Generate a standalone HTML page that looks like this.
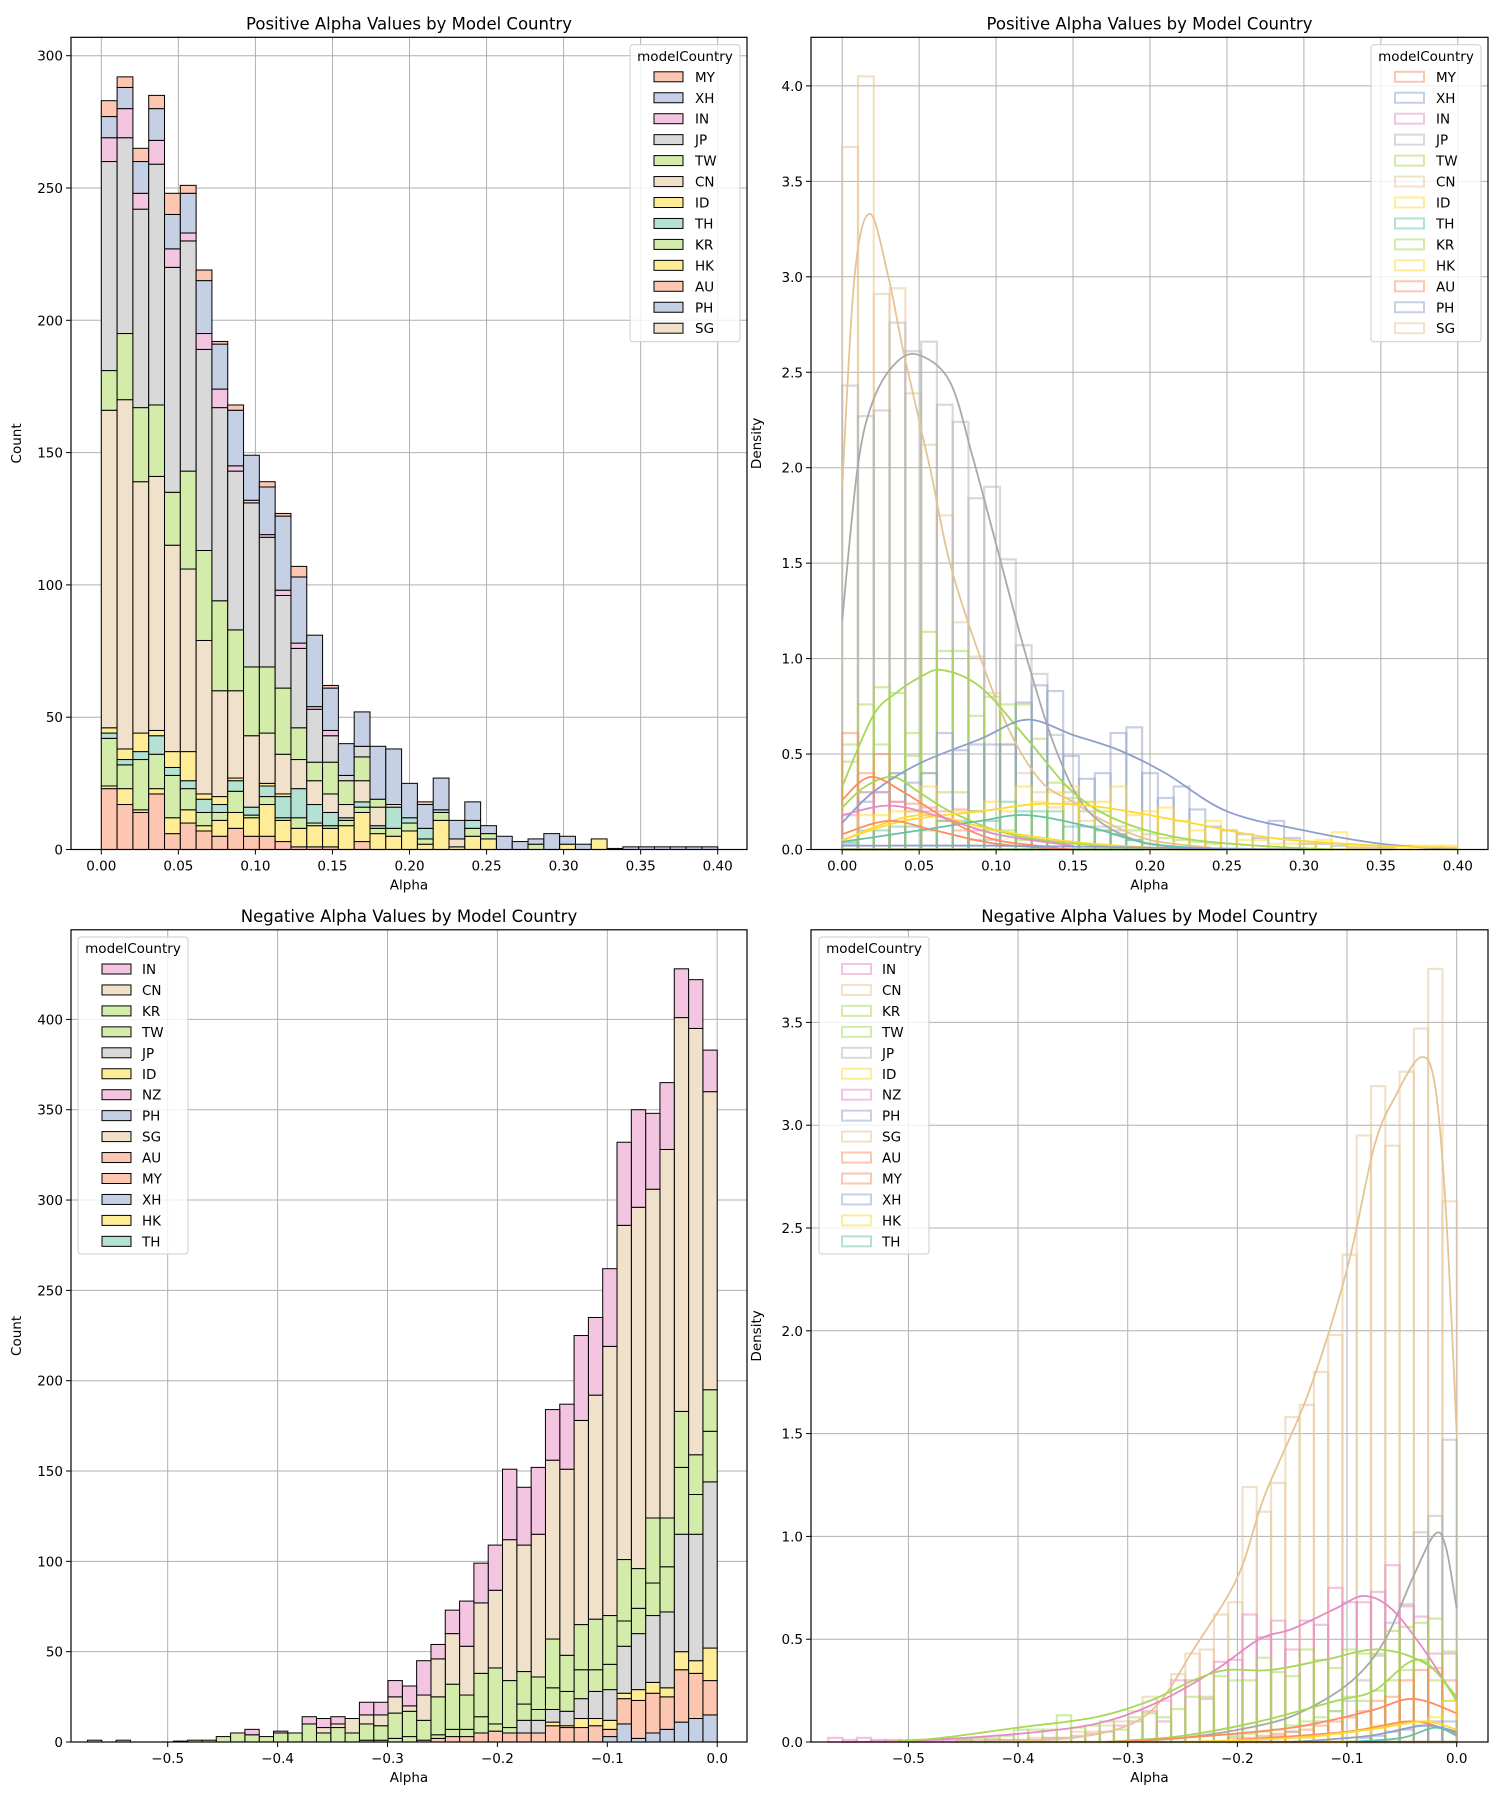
<!DOCTYPE html>
<html><head><meta charset="utf-8"><style>
html,body{margin:0;padding:0;background:#fff;}
svg text{font-family:"DejaVu Sans","Liberation Sans",sans-serif;fill:#000;}
</style></head><body>
<svg id="s" width="1500" height="1800" xmlns="http://www.w3.org/2000/svg"></svg>
<script>
var out=[];
function P(s){out.push(s);}
function sx(o,v){return o.xa+(v-o.xv0)*o.xk;}
function sy(o,v){return o.B-v*o.yk;}
function grid(o,xt,yt){
 P('<rect x="'+o.L+'" y="'+o.T+'" width="'+(o.R-o.L)+'" height="'+(o.B-o.T)+'" fill="#fff"/>');
 xt.forEach(function(v){var x=sx(o,v);P('<line x1="'+x+'" y1="'+o.T+'" x2="'+x+'" y2="'+o.B+'" stroke="#b0b0b0" stroke-width="1"/>');});
 yt.forEach(function(v){var y=sy(o,v);P('<line x1="'+o.L+'" y1="'+y+'" x2="'+o.R+'" y2="'+y+'" stroke="#b0b0b0" stroke-width="1"/>');});
}
function frame(o,xt,yt,xf,yf,title,ylab){
 P('<rect x="'+o.L+'" y="'+o.T+'" width="'+(o.R-o.L)+'" height="'+(o.B-o.T)+'" fill="none" stroke="#000" stroke-width="1.2"/>');
 xt.forEach(function(v){var x=sx(o,v);P('<line x1="'+x+'" y1="'+o.B+'" x2="'+x+'" y2="'+(o.B+5)+'" stroke="#000"/>');
  P('<text x="'+x+'" y="'+(o.B+21)+'" font-size="13.5" text-anchor="middle">'+xf(v)+'</text>');});
 yt.forEach(function(v){var y=sy(o,v);P('<line x1="'+(o.L-5)+'" y1="'+y+'" x2="'+o.L+'" y2="'+y+'" stroke="#000"/>');
  P('<text x="'+(o.L-8)+'" y="'+(y+5)+'" font-size="13.5" text-anchor="end">'+yf(v)+'</text>');});
 P('<text x="'+((o.L+o.R)/2)+'" y="'+(o.T-8)+'" font-size="16.5" text-anchor="middle">'+title+'</text>');
 P('<text x="'+((o.L+o.R)/2)+'" y="'+(o.B+40)+'" font-size="13.5" text-anchor="middle">Alpha</text>');
 var yl=o.L-50;P('<text x="'+yl+'" y="'+((o.T+o.B)/2)+'" font-size="13.5" text-anchor="middle" transform="rotate(-90 '+yl+' '+((o.T+o.B)/2)+')">'+ylab+'</text>');
}
function legend(x,y,w,h,names,cols,filled,px,lx){
 P('<rect x="'+x+'" y="'+y+'" width="'+w+'" height="'+h+'" rx="3" fill="#fff" fill-opacity="0.8" stroke="#ccc"/>');
 P('<text x="'+(x+w/2)+'" y="'+(y+16)+'" font-size="13.5" text-anchor="middle">modelCountry</text>');
 names.forEach(function(n,i){var cy=y+32+i*20.95;
  if(filled)P('<rect x="'+px+'" y="'+(cy-5)+'" width="29" height="10" fill="'+cols[i]+'" stroke="#000" stroke-width="1"/>');
  else P('<rect x="'+px+'" y="'+(cy-5)+'" width="29" height="10" fill="none" stroke="'+cols[i]+'" stroke-opacity="0.5" stroke-width="2"/>');
  P('<text x="'+lx+'" y="'+(cy+5)+'" font-size="13.5">'+n+'</text>');});
}
function f2(v){return v.toFixed(2);} function f1(v){return v.toFixed(1).replace('-','\u2212');} function fi(v){return ''+v;}
function curve(o,pts,col){
 var p=pts.map(function(a){return [sx(o,a[0]),sy(o,a[1])];});
 var d='M'+p[0][0]+','+p[0][1];
 for(var i=0;i<p.length-1;i++){var p0=p[i-1]||p[i],p1=p[i],p2=p[i+1],p3=p[i+2]||p2;
  d+=' C'+(p1[0]+(p2[0]-p0[0])/6)+','+(p1[1]+(p2[1]-p0[1])/6)+' '+(p2[0]-(p3[0]-p1[0])/6)+','+(p2[1]-(p3[1]-p1[1])/6)+' '+p2[0]+','+p2[1];}
 P('<path d="'+d+'" fill="none" stroke="'+col+'" stroke-width="1.8"/>');
}
function outl(o,x0,w,vals,col){
 vals.forEach(function(v,i){if(v<=0)return;var a=sx(o,x0+i*w),b=sx(o,x0+(i+1)*w);
  P('<rect x="'+a+'" y="'+sy(o,v)+'" width="'+(b-a)+'" height="'+(v*o.yk)+'" fill="none" stroke="'+col+'" stroke-opacity="0.5" stroke-width="2.2"/>');});
}
var C={CN:'#e5c494',JP:'#b3b3b3',GR:'#a6d854',BL:'#8da0cb',IN:'#e78ac3',YE:'#ffd92f',TH:'#66c2a5',OR:'#fc8d62'};
var F={AU:'#fdc6b0',HK:'#ffec97',KR:'#d3ecaa',TH:'#b3e1d2',ID:'#ffec97',CN:'#f2e1ca',TW:'#d3ecaa',JP:'#d9d9d9',IN:'#f3c5e1',XH:'#c6d0e5',MY:'#fdc6b0'};

// ---------- Top-left ----------
var A={L:71,R:747,T:37.3,B:849.5,xa:101.3,xv0:0,xk:1541,yk:2.646};
grid(A,[0,.05,.1,.15,.2,.25,.3,.35,.4],[0,50,100,150,200,250,300]);
var lay1=['AU','HK','KR','TH','ID','CN','TW','JP','IN','XH','MY'];
var d1=[[23,24,42,44,46,166,181,260,269,277,283],[17,23,32,34,38,170,195,269,280,288,292],[14,15,34,37,44,139,167,242,248,260,265],[21,23,36,43,45,141,168,259,268,280,285],
[6,12,28,31,37,115,135,220,227,240,248],[10,15,23,26,37,106,143,230,233,248,251],[7,9,14,19,21,79,113,189,195,215,219],[5,11,14,17,20,60,94,167,174,191,192],
[8,14,22,26,27,60,83,143,145,166,168],[5,12,13,16,16,43,69,131,132,149,149],[5,17,20,24,25,44,69,118,119,137,139],[3,11,12,20,21,36,61,96,98,126,127],
[1,8,12,23,23,34,46,76,78,103,107],[1,9,10,17,17,26,33,53,54,81,81],[1,8,9,14,14,21,33,43,45,61,62],[0,9,11,12,12,17,26,28,28,40,40],
[3,14,16,18,18,26,35,39,39,52,52],[0,6,8,9,9,16,19,19,19,39,39],[0,5,8,16,16,17,17,17,17,38,38],[0,7,10,12,12,12,12,12,12,25,25],
[0,2,4,8,8,8,8,8,8,17,18],[0,11,14,15,15,15,15,15,15,27,27],[0,1,1,1,1,4,4,4,4,11,11],[0,5,8,11,11,11,11,11,11,18,18],[0,4,6,6,6,6,6,6,6,9,9],
[0,0,0,0,0,0,0,0,0,5,5],[0,0,0,0,0,0,0,0,0,3,3],[0,0,2,2,2,2,2,2,2,4,4],[0,0,0,0,0,0,0,0,0,6,6],[0,2,2,2,2,2,2,2,2,5,5],[0,0,0,0,0,0,0,0,0,2,2],[0,4,4,4,4,4,4,4,4,4,4],
[0,0,0,0,0,0,0,0,0,0.4,0.4],[0,0,0,0,0,0,0,0,0,1,1],[0,0,0,0,0,0,0,0,0,1,1],[0,0,0,0,0,0,0,0,0,1,1],[0,0,0,0,0,0,0,0,0,1,1],[0,0,0,0,0,0,0,0,0,1,1],[0,0,0,0,0,0,0,0,0,1,1]];
var w1=0.4/39;
d1.forEach(function(b,i){var a=sx(A,i*w1),c=sx(A,(i+1)*w1),prev=0;
 b.forEach(function(t,j){if(t>prev||j==b.length-1){var h=(t-prev)*A.yk;P('<rect x="'+a+'" y="'+sy(A,t)+'" width="'+(c-a)+'" height="'+Math.max(h,0)+'" fill="'+F[lay1[j]]+'" stroke="#000" stroke-width="1"/>');}prev=Math.max(prev,t);});});
frame(A,[0,.05,.1,.15,.2,.25,.3,.35,.4],[0,50,100,150,200,250,300],f2,fi,'Positive Alpha Values by Model Country','Count');
var n1=['MY','XH','IN','JP','TW','CN','ID','TH','KR','HK','AU','PH','SG'];
var fc1=['#fdc6b0','#c6d0e5','#f3c5e1','#d9d9d9','#d3ecaa','#f2e1ca','#ffec97','#b3e1d2','#d3ecaa','#ffec97','#fdc6b0','#c6d0e5','#f2e1ca'];
legend(630,44.8,110,297,n1,fc1,true,654,695);

// ---------- Top-right ----------
var B={L:811,R:1488,T:37.3,B:849.5,xa:842.2,xv0:0,xk:1539,yk:190.9};
grid(B,[0,.05,.1,.15,.2,.25,.3,.35,.4],[0,.5,1,1.5,2,2.5,3,3.5,4]);
outl(B,0,w1,[3.68,4.05,2.91,2.94,2.39,2.12,1.75,1.19,1.01,0.82,0.55,0.4,0.3,0.22,0.25,0.15,0.1,0.08,0.05,0.03],C.CN);
outl(B,0,w1,[2.43,2.27,2.30,2.76,2.61,2.66,2.33,2.24,1.84,1.90,1.52,1.07,0.92,0.6,0.3,0.2,0.12,0.1,0.05],C.JP);
outl(B,0,w1,[0.55,0.76,0.85,0.82,0.61,1.14,1.04,1.04,0.70,0.80,0.76,0.76,0.58,0.35,0.27,0.25,0.2,0.12,0.1,0.08,0.06,0.05,0.04,0.03],C.GR);
outl(B,0,w1,[0.46,0.3,0.55,0.4,0.49,0.4,0.3,0.3,0.2,0.1,0.1,0.05],C.GR);
outl(B,0,w1,[0.03,0.25,0.3,0.4,0.35,0.4,0.61,0.52,0.55,0.55,0.55,0.77,0.86,0.83,0.49,0.37,0.40,0.61,0.64,0.40,0.27,0.33,0.21,0.12,0.1,0.08,0.06,0.15,0.06,0.03,0.03,0.02,0.01,0.01,0.01],C.BL);
outl(B,0,w1,[0.61,0.4,0.5,0.25,0.24,0.2,0.15,0.1,0.05],C.OR);
outl(B,0,w1,[0.18,0.3,0.3,0.25,0.2,0.22,0.2,0.21,0.1,0.05],C.IN);
outl(B,0,w1,[0.05,0.18,0.18,0.2,0.2,0.33,0.15,0.2,0.2,0.25,0.2,0.33,0.25,0.3,0.33,0.25,0.25,0.33,0.18,0.2,0.22,0.15,0.1,0.15,0.1,0.05,0.05,0.03,0.03,0.03,0.05,0.09,0.02,0.02,0.02,0.02,0.02,0.02,0.02],C.YE);
outl(B,0,w1,[0.04,0.1,0.1,0.12,0.12,0.1,0.15,0.15,0.2,0.15,0.25,0.2,0.2,0.2,0.12,0.12,0.1,0.08,0.05],C.TH);
curve(B,[[0,1.9],[0.008,3.0],[0.018,3.33],[0.03,3.0],[0.04,2.6],[0.057,2.0],[0.07,1.5],[0.09,1.0],[0.11,0.6],[0.13,0.35],[0.15,0.25],[0.17,0.15],[0.2,0.05],[0.24,0.01]],C.CN);
curve(B,[[0,1.2],[0.01,2.0],[0.02,2.35],[0.035,2.55],[0.05,2.59],[0.07,2.45],[0.085,2.05],[0.1,1.6],[0.12,1.0],[0.14,0.5],[0.16,0.2],[0.19,0.05],[0.22,0.01]],'#a9a9a9');
curve(B,[[0,0.33],[0.02,0.7],[0.035,0.82],[0.05,0.9],[0.065,0.94],[0.09,0.85],[0.12,0.58],[0.15,0.3],[0.18,0.15],[0.22,0.06],[0.27,0.02],[0.32,0.0]],C.GR);
curve(B,[[0,0.22],[0.015,0.33],[0.033,0.38],[0.05,0.3],[0.07,0.2],[0.1,0.1],[0.13,0.05],[0.18,0.01]],C.GR);
curve(B,[[0,0.14],[0.02,0.3],[0.05,0.45],[0.09,0.58],[0.12,0.68],[0.15,0.6],[0.18,0.52],[0.21,0.4],[0.25,0.2],[0.3,0.1],[0.35,0.03],[0.4,0.0]],C.BL);
curve(B,[[0,0.05],[0.04,0.15],[0.09,0.2],[0.13,0.24],[0.17,0.22],[0.22,0.15],[0.28,0.06],[0.35,0.02],[0.4,0.01]],C.YE);
curve(B,[[0,0.05],[0.05,0.18],[0.1,0.1],[0.15,0.04],[0.2,0.01]],C.YE);
curve(B,[[0,0.04],[0.05,0.1],[0.09,0.15],[0.12,0.18],[0.16,0.12],[0.2,0.03],[0.25,0.0]],C.TH);
curve(B,[[0,0.26],[0.018,0.38],[0.04,0.3],[0.07,0.15],[0.1,0.05],[0.14,0.01]],C.OR);
curve(B,[[0,0.08],[0.03,0.15],[0.06,0.1],[0.1,0.03],[0.15,0.0]],C.OR);
curve(B,[[0,0.18],[0.03,0.23],[0.06,0.18],[0.1,0.08],[0.15,0.02]],C.IN);
curve(B,[[0,0.02],[0.1,0.02],[0.2,0.01],[0.3,0.0]],C.BL);
frame(B,[0,.05,.1,.15,.2,.25,.3,.35,.4],[0,.5,1,1.5,2,2.5,3,3.5,4],f2,f1,'Positive Alpha Values by Model Country','Density');
var oc1=[C.OR,C.BL,C.IN,C.JP,C.GR,C.CN,C.YE,C.TH,C.GR,C.YE,C.OR,C.BL,C.CN];
legend(1371,44.8,110,297,n1,oc1,false,1395,1436);

// ---------- Bottom-left ----------
var D={L:71,R:747,T:929.8,B:1742,xa:717.2,xv0:0,xk:1099,yk:1.8065};
var xt2=[-0.5,-0.4,-0.3,-0.2,-0.1,0];
grid(D,xt2,[0,50,100,150,200,250,300,350,400]);
var lay2=['XH','AU','ID','JP','TW','KR','CN','IN'];
var d2=[[15,34,52,144,172,195,360,383],[13,38,45,115,137,159,395,422],[11,40,50,115,152,183,401,428],[7,25,30,72,97,124,328,365],[5,27,33,70,88,124,306,348],
[2,23,29,60,74,96,296,350],[10,24,27,53,67,101,286,332],[3,7,12,29,43,70,219,262],[0,9,13,28,40,68,192,235],[0,8,13,24,40,65,178,225],[0,8,9,17,28,48,151,187],
[0,9,11,18,30,57,156,184],[0,5,5,12,18,36,115,152],[0,5,5,12,21,39,109,141],[0,5,5,5,8,34,112,151],[0,6,6,6,10,41,84,109],[0,5,5,5,14,38,77,99],[0,3,3,3,7,26,53,78],
[0,3,3,3,7,32,60,73],[0,2,2,2,4,25,46,54],[0,1,1,1,1,12,26,45],[0,0,0,0,3,17,20,31],[0,0,0,0,2,16,25,34],[0,0,0,0,1,9,15,22],[0,0,0,0,1,10,15,22],[0,0,0,0,0,5,13,13],
[0,0,0,0,0,8,10,14],[0,0,0,0,0,5,8,13],[0,0,0,0,0,10,10,14],[0,0,0,0,0,5,5,5],[0,0,0,0,0,5,5,6],[0,0,0,0,0,3,3,3],[0,0,0,0,0,4,4,7],[0,0,0,0,0,5,5,5],[0,0,0,0,0,3,3,3],
[0,0,0,0,0,1,1,1],[0,0,0,0,0,1,1,1],[0,0,0,0,0,0.5,0.5,0.5],[0,0,0,0,0,0,0,0],[0,0,0,0,0,0,0,0],[0,0,0,0,0,0,0,0],[0,0,0,0,0,1,1,1],[0,0,0,0,0,0,0,0],[0,0,0,0,0,1,1,1]];
var w2=0.56/43;
d2.forEach(function(b,k){if(b[b.length-1]<=0)return;var c=sx(D,-k*w2),a=sx(D,-(k+1)*w2),prev=0;
 b.forEach(function(t,j){if(t>prev||j==b.length-1){var h=(t-prev)*D.yk;P('<rect x="'+a+'" y="'+sy(D,t)+'" width="'+(c-a)+'" height="'+Math.max(h,0)+'" fill="'+F[lay2[j]]+'" stroke="#000" stroke-width="1"/>');}prev=Math.max(prev,t);});});
frame(D,xt2,[0,50,100,150,200,250,300,350,400],f1,fi,'Negative Alpha Values by Model Country','Count');
var n2=['IN','CN','KR','TW','JP','ID','NZ','PH','SG','AU','MY','XH','HK','TH'];
var fc2=['#f3c5e1','#f2e1ca','#d3ecaa','#d3ecaa','#d9d9d9','#ffec97','#f3c5e1','#c6d0e5','#f2e1ca','#fdc6b0','#fdc6b0','#c6d0e5','#ffec97','#b3e1d2'];
legend(78,937,110,317,n2,fc2,true,102,142);

// ---------- Bottom-right ----------
var E={L:811,R:1488,T:929.8,B:1742,xa:1456.7,xv0:0,xk:1096.6,yk:205.6};
grid(E,xt2,[0,.5,1,1.5,2,2.5,3,3.5]);
function outn(vals,col){outl(E,-vals.length*w2,w2,vals.slice().reverse(),col);}
outn([2.63,3.76,3.47,3.26,2.90,3.19,2.95,2.37,1.98,1.80,1.64,1.58,1.26,1.12,1.24,0.68,0.62,0.45,0.43,0.33,0.2,0.22,0.15,0.1,0.08,0.05,0.05,0.02,0.02,0.02,0.01,0.01,0.01],C.CN);
outn([1.47,1.10,1.02,0.67,0.58,0.42,0.3,0.2,0.15,0.1,0.08,0.05,0.03,0.02],C.JP);
outn([0.43,0.43,0.61,0.66,0.86,0.73,0.68,0.68,0.75,0.57,0.59,0.45,0.59,0.51,0.62,0.40,0.39,0.21,0.3,0.3,0.1,0.15,0.1,0.08,0.05,0.04,0.03,0.02,0.02,0.01,0.01,0.01,0.01,0.01,0.01,0.01,0.01,0.01,0.01,0.01,0.01,0.02,0.01,0.02],C.IN);
outn([0.44,0.6,0.58,0.56,0.54,0.43,0.43,0.45,0.36,0.4,0.45,0.32,0.34,0.41,0.30,0.30,0.32,0.22,0.22,0.16,0.12,0.14,0.12,0.06,0.1,0.08,0.07,0.13,0.06,0.06,0.06,0.03,0.02,0.02,0.01],C.GR);
outn([0.2,0.3,0.4,0.35,0.3,0.25,0.2,0.22,0.15,0.12,0.1,0.08,0.06,0.05,0.04,0.03],C.GR);
outn([0.3,0.36,0.35,0.3,0.22,0.2,0.15,0.12,0.1,0.08,0.06,0.05,0.04,0.03,0.02,0.02],C.OR);
outn([0.2,0.12,0.1,0.1,0.08,0.08,0.06,0.05,0.04,0.03,0.02],C.YE);
outn([0.1,0.1,0.08,0.06,0.05,0.03,0.02],C.BL);
curve(E,[[0,1.5],[-0.01,2.6],[-0.02,3.2],[-0.033,3.33],[-0.055,3.15],[-0.075,2.9],[-0.1,2.3],[-0.135,1.7],[-0.175,1.2],[-0.2,0.8],[-0.24,0.45],[-0.27,0.2],[-0.3,0.08],[-0.35,0.02],[-0.42,0.0]],C.CN);
curve(E,[[0,0.65],[-0.01,0.95],[-0.02,1.01],[-0.04,0.8],[-0.065,0.5],[-0.095,0.3],[-0.14,0.15],[-0.18,0.08],[-0.25,0.02],[-0.32,0.0]],'#a9a9a9');
curve(E,[[0,0.2],[-0.03,0.45],[-0.06,0.65],[-0.085,0.71],[-0.11,0.65],[-0.15,0.55],[-0.18,0.5],[-0.22,0.35],[-0.27,0.2],[-0.32,0.1],[-0.38,0.05],[-0.48,0.01],[-0.56,0.0]],C.IN);
curve(E,[[0,0.2],[-0.025,0.37],[-0.07,0.45],[-0.12,0.4],[-0.17,0.35],[-0.21,0.35],[-0.24,0.3],[-0.28,0.2],[-0.33,0.12],[-0.4,0.07],[-0.47,0.02],[-0.52,0.0]],C.GR);
curve(E,[[0,0.22],[-0.035,0.4],[-0.075,0.25],[-0.11,0.2],[-0.18,0.1],[-0.25,0.03],[-0.32,0.0]],C.GR);
curve(E,[[0,0.14],[-0.04,0.21],[-0.08,0.15],[-0.15,0.07],[-0.25,0.02],[-0.32,0.0]],C.OR);
curve(E,[[0,0.04],[-0.04,0.1],[-0.1,0.05],[-0.2,0.01]],C.OR);
curve(E,[[0,0.06],[-0.03,0.1],[-0.08,0.06],[-0.15,0.02],[-0.25,0.0]],C.YE);
curve(E,[[0,0.05],[-0.03,0.08],[-0.08,0.03],[-0.15,0.0]],C.BL);
curve(E,[[0,0.03],[-0.02,0.07],[-0.05,0.02],[-0.1,0.0]],C.TH);
frame(E,xt2,[0,.5,1,1.5,2,2.5,3,3.5],f1,f1,'Negative Alpha Values by Model Country','Density');
var oc2=[C.IN,C.CN,C.GR,C.GR,C.JP,C.YE,C.IN,C.BL,C.CN,C.OR,C.OR,C.BL,C.YE,C.TH];
legend(819,937,110,317,n2,oc2,false,842,882);

document.getElementById('s').innerHTML=out.join('');
</script>
</body></html>
